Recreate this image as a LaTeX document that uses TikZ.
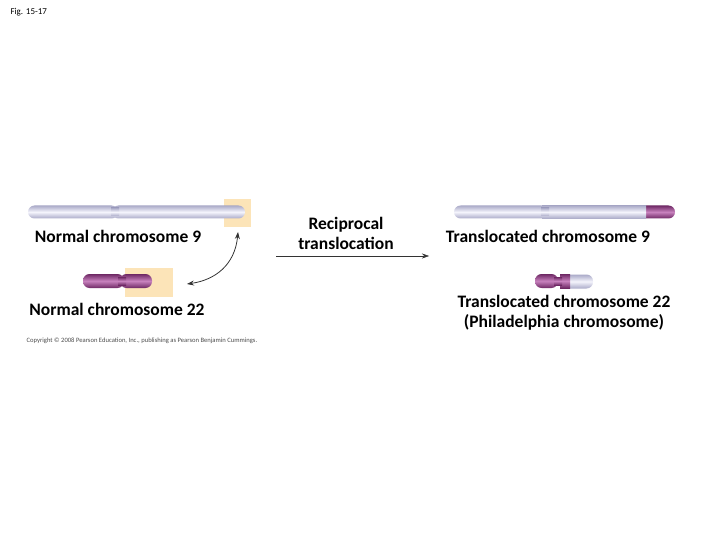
\documentclass[tikz,border=0pt]{standalone}
\usepackage{fontspec}
\setmainfont{Carlito}
\usetikzlibrary{arrows.meta}
\definecolor{lav}{RGB}{214,214,236}
\definecolor{lavhi}{RGB}{244,244,252}
\definecolor{lavlo}{RGB}{170,170,200}
\definecolor{pur}{RGB}{150,70,140}
\definecolor{purhi}{RGB}{200,130,190}
\definecolor{purlo}{RGB}{110,40,100}
\definecolor{peach}{RGB}{252,228,184}
\tikzset{
  lbl/.style={font=\fontsize{17.5}{20}\selectfont\bfseries, align=center, inner sep=1pt},
  lightarm/.style={rounded corners=6.5pt, top color=lavlo, bottom color=lavlo, middle color=lavhi, draw=none},
  purarm/.style={rounded corners=6.5pt, top color=purlo, bottom color=purlo, middle color=purhi, draw=none},
  box/.style={fill=peach, draw=none},
  conn/.style={-{Stealth[length=7pt,width=5pt]}, thick, black!80}
}
\begin{document}
\begin{tikzpicture}[x=1pt,y=-1pt]
\useasboundingbox (0,0) rectangle (720,540);
\node[anchor=west, font=\fontsize{9}{10}\selectfont] (fig) at (7,12) {Fig. 15-17};
% boxes
\fill[box] (224,199) rectangle (251,227);
\fill[box] (125,268) rectangle (173,297);
% normal 9
\path[lightarm] (28,205.5) rectangle (118,218.5);
\path[lightarm] (112,205.5) rectangle (245,218.5);
\path[top color=lavlo,bottom color=lavlo,middle color=lavhi] (111,208) rectangle (119,216);
% normal 22
\path[purarm] (83,274) rectangle (124,288);
\path[purarm] (120,274) rectangle (152,288);
\path[top color=purlo,bottom color=purlo,middle color=purhi] (118,277) rectangle (126,285);
% translocated 9
\path[purarm] (635,205.5) rectangle (675,218.5);
\path[lightarm] (454,205.5) rectangle (548,218.5);
\path[lightarm, rounded corners=0pt] (542,205.5) rectangle (646,218.5);
\path[top color=lavlo,bottom color=lavlo,middle color=lavhi] (541,208) rectangle (549,216);
% translocated 22
\path[lightarm] (562,274.5) rectangle (593,288.5);
\path[purarm] (535,274) rectangle (558,288);
\path[purarm, rounded corners=0pt] (560,274) rectangle (570,288);
\path[top color=purlo,bottom color=purlo,middle color=purhi] (554,277) rectangle (562,285);
% labels
\node[lbl] (n9) at (118,236) {Normal chromosome 9};
\node[lbl] (n22) at (117,309) {Normal chromosome 22};
\node[lbl] (rt) at (346,233) {Reciprocal\\translocation};
\node[lbl] (t9) at (548,236) {Translocated chromosome 9};
\node[lbl] (t22) at (564,313) {Translocated chromosome 22\\(Philadelphia chromosome)};
\node[font=\fontsize{6.6}{7}\selectfont, text=black!70] (copy) at (142,341) {Copyright © 2008 Pearson Education, Inc., publishing as Pearson Benjamin Cummings.};
% connectors
\coordinate (a1) at (187,284);
\coordinate (a2) at (238,232);
\draw[conn, {Stealth[length=7pt,width=5pt]}-{Stealth[length=7pt,width=5pt]}] (a1) .. controls (215,280) and (235,265) .. (a2);
\coordinate (r1) at (276,256);
\coordinate (r2) at (429,256);
\draw[conn, thin] (r1) -- (r2);
\end{tikzpicture}
\end{document}
